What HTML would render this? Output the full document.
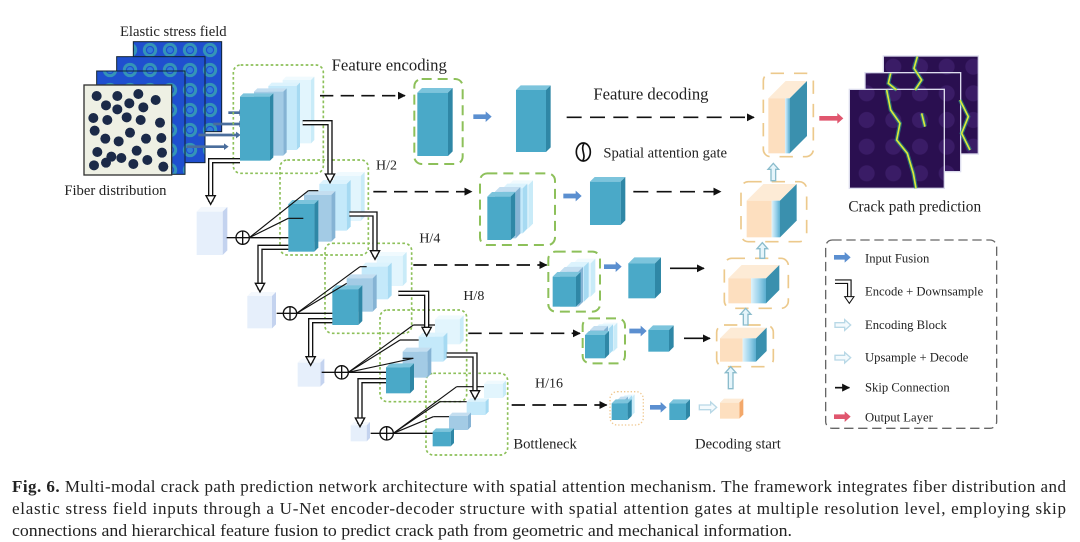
<!DOCTYPE html>
<html><head><meta charset="utf-8"><style>
html,body{margin:0;padding:0;background:#fff;width:1080px;height:542px;overflow:hidden}
svg{display:block}
text{font-family:"Liberation Serif",serif;fill:#222}
</style></head><body>
<svg id="s" xmlns="http://www.w3.org/2000/svg" width="1080" height="542" viewBox="0 0 1080 542">
<defs>
<pattern id="sp" width="60" height="60" patternUnits="userSpaceOnUse">
<rect width="60" height="60" fill="#1f4fcf"/><circle cx="30" cy="30" r="17" fill="none" stroke="#43c2a6" stroke-width="9" opacity=".6"/><circle cx="30" cy="30" r="9" fill="#2f7fd8"/>
</pattern>
<pattern id="cp" width="80" height="80" patternUnits="userSpaceOnUse">
<rect width="80" height="80" fill="#2a0f50"/><circle cx="40" cy="40" r="24" fill="#3a1c66"/>
</pattern>
<marker id="ab" viewBox="0 0 10 10" refX="9" refY="5" markerWidth="24" markerHeight="24" markerUnits="userSpaceOnUse" orient="auto"><path d="M0,0L10,5L0,10z" fill="#111"/></marker>
<linearGradient id="st" x1="0" x2="1"><stop offset="0" stop-color="#dff3fb"/><stop offset=".5" stop-color="#9fd4ec"/><stop offset="1" stop-color="#5aaed0"/></linearGradient>
</defs>
<g id="g" transform="scale(0.33333)">
<text x="360" y="108" font-size="44">Elastic stress field</text>
<text x="193" y="585" font-size="44">Fiber distribution</text>
<text x="995" y="212" font-size="50">Feature encoding</text>
<text x="1780" y="298" font-size="50">Feature decoding</text>
<text x="1810" y="472" font-size="44">Spatial attention gate</text>
<text x="1128" y="508" font-size="42">H/2</text>
<text x="1258" y="728" font-size="42">H/4</text>
<text x="1390" y="900" font-size="42">H/8</text>
<text x="1605" y="1162" font-size="42">H/16</text>
<text x="1540" y="1345" font-size="44">Bottleneck</text>
<text x="2085" y="1345" font-size="44">Decoding start</text>
<text x="2545" y="635" font-size="46">Crack path prediction</text>
<text x="2595" y="787" font-size="38">Input Fusion</text>
<text x="2595" y="887" font-size="38">Encode + Downsample</text>
<text x="2595" y="987" font-size="38">Encoding Block</text>
<text x="2595" y="1085" font-size="38">Upsample + Decode</text>
<text x="2595" y="1175" font-size="38">Skip Connection</text>
<text x="2595" y="1264" font-size="38">Output Layer</text>
</g>
<text x="12" y="492" font-size="17" textLength="1054" lengthAdjust="spacing"><tspan font-weight="bold">Fig. 6.</tspan>  Multi-modal crack path prediction network architecture with spatial attention mechanism. The framework integrates fiber distribution and</text>
<text x="12" y="514" font-size="17" textLength="1054" lengthAdjust="spacing">elastic stress field inputs through a U-Net encoder-decoder structure with spatial attention gates at multiple resolution level, employing skip</text>
<text x="12" y="536" font-size="17" textLength="780" lengthAdjust="spacingAndGlyphs">connections and hierarchical feature fusion to predict crack path from geometric and mechanical information.</text>
</svg>
<script>
const S='http://www.w3.org/2000/svg';const G=document.getElementById('g');
const first=G.firstChild;
function el(t,a){const e=document.createElementNS(S,t);for(const k in a)e.setAttribute(k,a[k]);G.insertBefore(e,first);return e;}
function cub(x,y,w,h,d,c){el('polygon',{points:`${x},${y} ${x+d},${y-d} ${x+w+d},${y-d} ${x+w},${y}`,fill:c[1]});el('polygon',{points:`${x+w},${y} ${x+w+d},${y-d} ${x+w+d},${y+h-d} ${x+w},${y+h}`,fill:c[2]});el('rect',{x,y,width:w,height:h,fill:c[0]});}
const C0=['#4aa9c8','#7cc4dc','#2f87a6'],C1=['#a3cbe5','#c4def0','#85b3d4'],C2=['#c4e9fa','#dcf3fd','#a6daf2'],C3=['#e2f5fd','#f0fafe','#c9ebf8'],CL=['#e6effb','#f4f8fd','#c4d3ef'];
function stack(a,d){const cs=[C3,C2,C1,C0];a.forEach((r,i)=>cub(r[0],r[1],r[2],r[3],d,cs[i]));}
function gbox(x,y,w,h,col,da,sw){el('rect',{x,y,width:w,height:h,rx:22,fill:'none',stroke:col||'#8dc05a','stroke-width':sw||5,'stroke-dasharray':da||'8 7'});}
function line(x1,y1,x2,y2,da,arr,w){const a={x1,y1,x2,y2,stroke:'#111','stroke-width':w||5};if(da)a['stroke-dasharray']=da;if(arr)a['marker-end']='url(#ab)';el('line',a);}
function dbl(pts){const p=pts.map(q=>q.join(',')).join(' ');el('polyline',{points:p,fill:'none',stroke:'#111','stroke-width':16});el('polyline',{points:p,fill:'none',stroke:'#fff','stroke-width':8});const [x,y]=pts[pts.length-1];el('polygon',{points:`${x-14},${y-18} ${x+14},${y-18} ${x},${y+8}`,fill:'#fff',stroke:'#111','stroke-width':4});}
function fat(x1,x2,y,col,hol){el('polygon',{points:`${x1},${y-7} ${x2-18},${y-7} ${x2-18},${y-16} ${x2},${y} ${x2-18},${y+16} ${x2-18},${y+7} ${x1},${y+7}`,fill:hol?'#f4fafd':col,stroke:hol?'#b8d8e6':'none','stroke-width':4});}
function up(x,y1,y2){el('polygon',{points:`${x-7},${y2} ${x-7},${y1+18} ${x-16},${y1+18} ${x},${y1} ${x+16},${y1+18} ${x+7},${y1+18} ${x+7},${y2}`,fill:'#e6f5fb',stroke:'#8bbccc','stroke-width':4});}
function dec(x,y,w,h,sw,d){el('polygon',{points:`${x},${y} ${x+d},${y-d} ${x+w+sw+d},${y-d} ${x+w+sw},${y}`,fill:'#fdebd6'});el('polygon',{points:`${x+w+sw},${y} ${x+w+sw+d},${y-d} ${x+w+sw+d},${y+h-d} ${x+w+sw},${y+h}`,fill:'#3a90ae'});el('rect',{x,y,width:w,height:h,fill:'#fddfbf'});el('rect',{x:x+w,y,width:sw,height:h,fill:'url(#st)'});}
function circ(x,y){el('circle',{cx:x,cy:y,r:20,fill:'#fff',stroke:'#111','stroke-width':4});line(x-20,y,x+20,y,0,0,4);line(x,y-20,x,y+20,0,0,4);}
el('rect',{x:400,y:125,width:265,height:270,fill:'url(#sp)',stroke:'#123',"stroke-width":3});
el('rect',{x:350,y:170,width:265,height:318,fill:'url(#sp)',stroke:'#123',"stroke-width":3});
el('rect',{x:290,y:213,width:265,height:310,fill:'url(#sp)',stroke:'#123',"stroke-width":3});
el('rect',{x:252,y:255,width:263,height:270,fill:'#eef0e4',stroke:'#333',"stroke-width":4});
[[290,288],[352,288],[415,282],[467,300],[318,316],[388,310],[430,322],[352,328],[280,354],[322,360],[380,352],[422,360],[480,368],[284,392],[316,416],[356,424],[390,398],[438,416],[484,414],[292,456],[334,470],[364,474],[410,452],[442,480],[486,458],[282,496],[318,488],[400,492],[490,500]].forEach(p=>el('circle',{cx:p[0],cy:p[1],r:15,fill:'#1b2a48'}));
[[685,338,722],[640,372,722],[595,405,712],[560,440,676]].forEach(a=>{el('line',{x1:a[0],y1:a[1],x2:a[2],y2:a[1],stroke:'#4a6d9c','stroke-width':8});el('polygon',{points:`${a[2]-4},${a[1]-10} ${a[2]+10},${a[1]} ${a[2]-4},${a[1]+10}`,fill:'#4a6d9c'});});
gbox(700,195,270,325);gbox(840,480,265,285);gbox(975,730,260,270);gbox(1140,930,260,275);gbox(1278,1120,245,245);
stack([[848,240,85,190],[805,258,85,192],[762,275,88,192],[720,290,90,192]],10);
stack([[1002,528,80,135],[958,552,82,140],[912,585,82,140],[865,612,78,143]],12);
stack([[1130,768,78,90],[1085,800,78,98],[1040,835,78,100],[997,868,78,107]],12);
stack([[1305,958,74,75],[1256,1010,74,75],[1208,1055,74,78],[1158,1102,72,78]],12);
stack([[1452,1152,56,42],[1400,1205,56,40],[1347,1248,56,42],[1298,1295,54,44]],10);
cub(590,635,78,130,14,CL);cub(742,888,74,97,12,CL);cub(893,1088,68,72,12,CL);cub(1052,1276,48,48,10,CL);
const fan=[[728,713,865,[[925,572,955],[865,655,910]],740],[870,940,997,[[1080,800,1100],[1040,850,1040]],962],[1025,1117,1158,[[1240,975,1305],[1200,1020,1256],[1240,1075,1208]],1140],[1160,1300,1298,[[1370,1160,1452],[1320,1205,1400],[1300,1250,1347]],1320]];
fan.forEach((f,i)=>{const[cx,cy,bx,ls]=f;const lx=[680,830,965,1112][i];line(lx,cy,cx-20,cy,0,0,4);line(cx+20,cy,bx,cy,0,0,4);ls.forEach(l=>{line(cx+20,cy,l[0],l[1],0,0,3.5);line(l[0],l[1],l[2],l[1],0,0,3.5);});circ(cx,cy);});
dbl([[720,482],[632,482],[632,605]]);dbl([[908,368],[990,368],[990,540]]);
dbl([[865,742],[780,742],[780,868]]);dbl([[1048,642],[1125,642],[1125,770]]);
dbl([[997,962],[932,962],[932,1088]]);dbl([[1195,880],[1280,880],[1280,1000]]);
dbl([[1158,1142],[1080,1142],[1080,1272]]);dbl([[1340,1065],[1425,1065],[1425,1190]]);
line(960,287,1215,287,'40 22',1);line(1120,575,1415,575,'40 22',1);line(1240,795,1640,795,'40 22',1);line(1405,1000,1740,1000,'40 22',1);line(1535,1215,1820,1215,'40 22',1);
line(1700,352,2262,352,'45 25',1);line(1900,575,2162,575,'45 25',1);line(2010,805,2112,805,0,1);line(2052,1015,2130,1015,0,1);
gbox(1243,237,145,255,'#8dc05a','30 18',6);cub(1252,278,92,190,14,C0);fat(1420,1475,350,'#5b8fd0');cub(1548,270,90,186,14,C0);
gbox(1440,520,225,215,'#8dc05a','30 18',6);stack([[1525,555,60,130],[1508,565,60,135],[1485,575,62,140],[1462,590,70,130]],14);fat(1690,1745,588,'#5b8fd0');cub(1770,545,92,130,14,C0);
gbox(1645,755,155,180,'#8dc05a','30 18',6);stack([[1720,790,52,100],[1700,800,52,105],[1680,815,55,105],[1658,830,70,90]],14);fat(1812,1865,800,'#5b8fd0');cub(1885,790,80,105,18,C0);
gbox(1748,955,127,135,'#8dc05a','30 18',6);stack([[1800,980,40,75],[1785,985,42,78],[1770,990,42,80],[1755,1005,60,70]],12);fat(1888,1940,993,'#5b8fd0');cub(1945,990,62,65,14,C0);
gbox(1830,1175,100,100,'#f0c890','4 6',4);stack([[1872,1195,20,55],[1862,1198,22,58],[1850,1202,22,58],[1835,1210,48,50]],12);fat(1950,2000,1222,'#5b8fd0');cub(2008,1210,50,50,12,C0);fat(2098,2150,1222,'#000',1);
cub(2160,1208,58,48,12,['#fddfbf','#fdebd6','#f3a86a']);
gbox(2290,220,150,250,'#ecc98c','40 30',5);dec(2305,295,50,165,14,52);
gbox(2223,545,197,180,'#ecc98c','40 30',5);dec(2240,602,75,110,25,50);
gbox(2173,775,192,150,'#ecc98c','40 30',5);dec(2185,835,68,75,45,40);
gbox(2150,975,170,125,'#ecc98c','40 30',5);dec(2160,1015,68,70,40,32);
up(2320,490,542);up(2287,728,775);up(2237,925,975);up(2192,1100,1166);
fat(2458,2530,355,'#e0566e');
el('ellipse',{cx:1750,cy:456,rx:21,ry:27,fill:'none',stroke:'#111','stroke-width':5});el('path',{d:'M1752,430 C1740,450 1760,465 1748,483',fill:'none',stroke:'#111','stroke-width':5});
[[2650,168,2935,462],[2595,218,2882,515],[2548,268,2833,565]].forEach(r=>{el('rect',{x:r[0],y:r[1],width:r[2]-r[0],height:r[3]-r[1],fill:'url(#cp)',stroke:'#dde',"stroke-width":4});});
[['2752,170 2742,205 2765,240 2745,270','2880,300 2905,350 2885,400 2910,450'],['2672,220 2665,250 2690,270'],['2660,270 2672,330 2700,370 2690,420 2722,460 2740,520 2748,565','2765,340 2775,380']].forEach(s=>s.forEach(p=>{el('polyline',{points:p,fill:'none',stroke:'#25a08a','stroke-width':12,opacity:.6});el('polyline',{points:p,fill:'none',stroke:'#d8ea3a','stroke-width':5});}));
el('rect',{x:2477,y:720,width:513,height:565,rx:20,fill:'none',stroke:'#666','stroke-width':4,'stroke-dasharray':'28 14'});
fat(2502,2552,772,'#5b8fd0');
el('polyline',{points:'2505,845 2548,845 2548,895',fill:'none',stroke:'#111','stroke-width':14});el('polyline',{points:'2505,845 2548,845 2548,895',fill:'none',stroke:'#fff','stroke-width':7});el('polygon',{points:'2534,890 2562,890 2548,910',fill:'#fff',stroke:'#111','stroke-width':3});
fat(2505,2552,975,'#000',1);fat(2505,2552,1073,'#000',1);
line(2505,1163,2548,1163,0,1);fat(2502,2552,1250,'#e0566e');
</script>
</body></html>
